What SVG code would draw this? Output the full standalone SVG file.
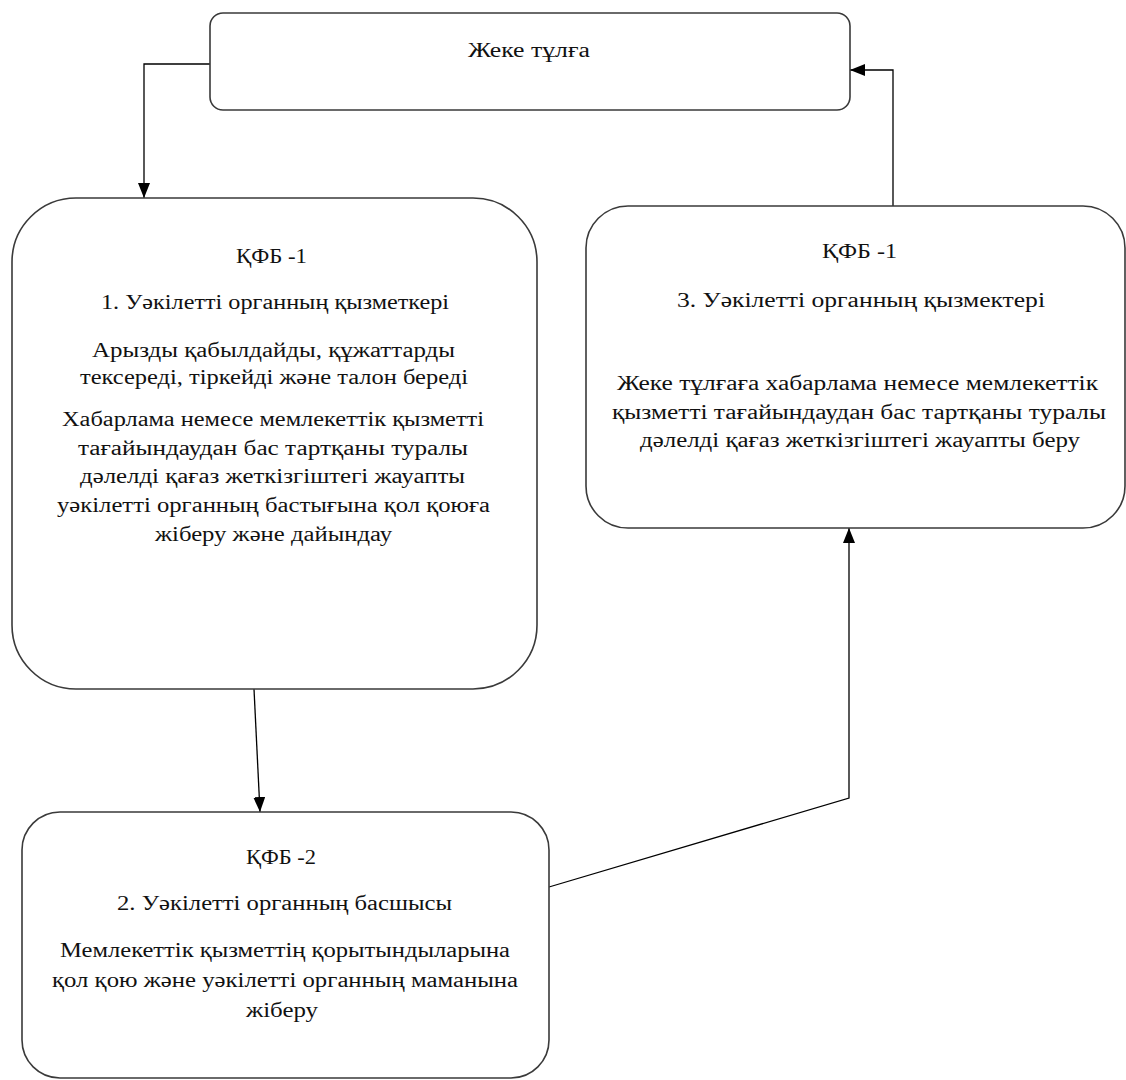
<svg xmlns="http://www.w3.org/2000/svg" width="1126" height="1080" viewBox="0 0 1126 1080">
<defs>
<style>
.box{fill:#fff;stroke:#3a3a3a;stroke-width:1.6}
.conn{fill:none;stroke:#000;stroke-width:1.3}
text{font-family:"Liberation Serif","Times New Roman",serif;font-size:20px;fill:#111;text-anchor:middle}
</style>
<marker id="arr" viewBox="0 0 15 12" refX="15" refY="6" markerWidth="15" markerHeight="12" markerUnits="userSpaceOnUse" orient="auto">
<path d="M0,0 L15,6 L0,12 z" fill="#000"/>
</marker>
</defs>
<rect width="1126" height="1080" fill="#fff"/>
<g id="connectors">
<path class="conn" d="M210,64 H144 V198" marker-end="url(#arr)"/>
<path class="conn" d="M254,689 L260,812" marker-end="url(#arr)"/>
<path class="conn" d="M549,887 L849,798 V528" marker-end="url(#arr)"/>
<path class="conn" d="M893,206 V70 H850" marker-end="url(#arr)"/>
</g>
<g id="node-top">
<rect class="box" x="210" y="13" width="640" height="97" rx="13"/>
<text x="529" y="57" textLength="122" lengthAdjust="spacingAndGlyphs">Жеке тұлға</text>
</g>
<g id="node-left">
<rect class="box" x="12" y="198" width="525" height="491" rx="64"/>
<text x="271.5" y="263" textLength="71" lengthAdjust="spacingAndGlyphs">ҚФБ -1</text>
<text x="275" y="309" textLength="348" lengthAdjust="spacingAndGlyphs">1. Уәкілетті органның қызметкері</text>
<text x="273.5" y="357" textLength="363" lengthAdjust="spacingAndGlyphs">Арызды қабылдайды, құжаттарды</text>
<text x="274" y="384" textLength="388" lengthAdjust="spacingAndGlyphs">тексереді, тіркейді және талон береді</text>
<text x="273" y="426" textLength="422" lengthAdjust="spacingAndGlyphs">Хабарлама немесе мемлекеттік қызметті</text>
<text x="273" y="455" textLength="390" lengthAdjust="spacingAndGlyphs">тағайындаудан бас тартқаны туралы</text>
<text x="272.5" y="483" textLength="385" lengthAdjust="spacingAndGlyphs">дәлелді қағаз жеткізгіштегі жауапты</text>
<text x="273.5" y="512" textLength="433" lengthAdjust="spacingAndGlyphs">уәкілетті органның бастығына қол қоюға</text>
<text x="273.5" y="541" textLength="237" lengthAdjust="spacingAndGlyphs">жіберу және дайындау</text>
</g>
<g id="node-right">
<rect class="box" x="586" y="206" width="539" height="322" rx="42"/>
<text x="859.5" y="258" textLength="75" lengthAdjust="spacingAndGlyphs">ҚФБ -1</text>
<text x="861" y="307" textLength="368" lengthAdjust="spacingAndGlyphs">3. Уәкілетті органның қызмектері</text>
<text x="857.5" y="390" textLength="481" lengthAdjust="spacingAndGlyphs">Жеке тұлғаға хабарлама немесе мемлекеттік</text>
<text x="859" y="419" textLength="494" lengthAdjust="spacingAndGlyphs">қызметті тағайындаудан бас тартқаны туралы</text>
<text x="860" y="447" textLength="440" lengthAdjust="spacingAndGlyphs">дәлелді қағаз жеткізгіштегі жауапты беру</text>
</g>
<g id="node-bottom">
<rect class="box" x="22" y="812" width="527" height="266" rx="38"/>
<text x="281" y="864" textLength="70" lengthAdjust="spacingAndGlyphs">ҚФБ -2</text>
<text x="284.5" y="910" textLength="335" lengthAdjust="spacingAndGlyphs">2. Уәкілетті органның басшысы</text>
<text x="285" y="957" textLength="450" lengthAdjust="spacingAndGlyphs">Мемлекеттік қызметтің қорытындыларына</text>
<text x="285" y="987" textLength="466" lengthAdjust="spacingAndGlyphs">қол қою және уәкілетті органның маманына</text>
<text x="282" y="1017" textLength="72" lengthAdjust="spacingAndGlyphs">жіберу</text>
</g>
</svg>
